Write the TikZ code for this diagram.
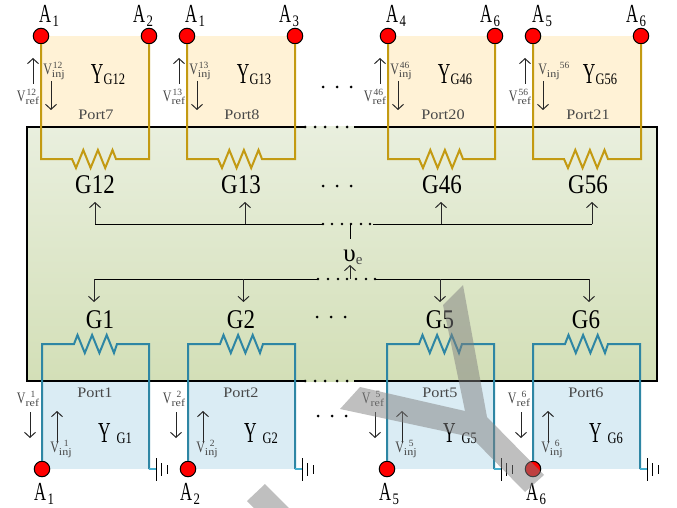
\documentclass[tikz,border=0pt]{standalone}
\usepackage{fontspec}
\usepackage{graphicx}
\setmainfont{Liberation Serif}
\usetikzlibrary{arrows.meta}
\definecolor{yelbg}{HTML}{FFF2D6}
\definecolor{blubg}{HTML}{DAECF4}
\definecolor{goldw}{HTML}{C39A12}
\definecolor{bluew}{HTML}{2E86A4}
\definecolor{gndw}{HTML}{45AECF}
\definecolor{txtg}{HTML}{484848}
\newcommand{\fs}[1]{\fontsize{#1}{#1}\selectfont}
\newcommand{\sx}[2]{\scalebox{#1}[1]{#2}}
% V label: letter, superscript, subscript, offset of the superscript
\newcommand{\vlab}[4]{\textcolor{txtg}{\sx{.75}{\fs{16}#1}\makebox[0pt][l]{\hspace{#4}\raisebox{6pt}{\fs{9.5}#2}}\raisebox{-3pt}{\sx{1.15}{\fs{10.5}#3}}}}
\newcommand{\anode}[2]{\sx{.64}{\fs{26}A}\hspace{1.5pt}\raisebox{-4pt}{\sx{.8}{\fs{16}#2}}}
\newcommand{\biglab}[1]{\sx{.85}{\fs{27}#1}}
\newcommand{\portl}[1]{\textcolor{txtg}{\sx{1.12}{\fs{14.5}Port#1}}}
\tikzset{
  term/.style={circle,draw=black,fill=red,line width=1pt,minimum size=15.5pt,inner sep=0pt},
  lbl/.style={inner sep=0pt,text=black},
  sig/.style={line width=1pt,-{Straight Barb[length=5pt,width=11pt,line width=1pt]},color=black!85},
  bus/.style={line width=1pt,color=black},
  frame/.style={line width=2.4pt,color=black,line cap=rect},
  goldwire/.style={line width=2pt,color=goldw,line join=miter},
  bluewire/.style={line width=2pt,color=bluew,line join=miter},
  gnd/.style={line width=0.9pt,color=black},
  dotm/.style={fill=black},
  water/.style={fill=black!50,opacity=0.5,draw=none}
}
\begin{document}
\begin{tikzpicture}[x=1pt,y=-1pt]
\useasboundingbox (0,0) rectangle (677,508);
% backgrounds
\foreach \dx/\w in {41/108,187/108,388/107,533/108}
  \fill[yelbg] (\dx,36) rectangle ++(\w,91);
\foreach \dx/\w in {42/107,188/107,386/107,532/107}
  \fill[blubg] (\dx,381) rectangle ++(\w,88);
\shade[top color={rgb,255:red,233;green,239;blue,222},bottom color={rgb,255:red,211;green,223;blue,183}] (27,127) rectangle (657,381);
% frame
\coordinate (tlc) at (27,127);
\coordinate (trc) at (657,127);
\coordinate (blc) at (27,381);
\coordinate (brc) at (657,381);
\coordinate (tgl) at (305,127);
\coordinate (tgr) at (355,127);
\coordinate (bgl) at (305,381);
\coordinate (bgr) at (355,381);
\draw[frame] (tgl) -- (tlc) -- (blc) -- (bgl);
\draw[frame] (tgr) -- (trc) -- (brc) -- (bgr);
\foreach \yy in {127,381}
  \foreach \xx in {305,315,325,337,347}
    \fill[dotm] (\xx,\yy) circle (1.5pt);
% top panels
\foreach \dx/\w/\id/\la/\lb/\sup/\port/\gx/\gn/\lax/\lbx in {
  0/108/a/1/2/12/7/95/12/49/143,
  146/108/b/1/3/13/8/241/13/195/289,
  347/107/c/4/6/46/20/442/46/396/490,
  492/108/d/5/6/56/21/588/56/542/636}{
  \begin{scope}[xshift=\dx pt]
    \node[term] (\id L) at (41,36) {};
    \node[term] (\id R) at (41+\w,36) {};
    \coordinate (\id ra) at (72,159);
    \coordinate (\id rb) at (116,159);
    \draw[goldwire] (\id L) |- (\id ra) -- ++(4,9) -- ++(7.3,-18) -- ++(7.3,18) -- ++(7.3,-18) -- ++(7.3,18) -- ++(7.3,-18) -- (\id rb) -| (\id R);
    \coordinate (\id ru) at (33,84);
    \coordinate (\id rv) at (33,58);
    \draw[sig] (\id ru) -- (\id rv);
    \coordinate (\id iu) at (51,81);
    \coordinate (\id iv) at (51,110);
    \draw[sig] (\id iu) -- (\id iv);
    \node[lbl] (\id vr) at (28,97) {\vlab{V}{\sup}{ref}{1pt}};
    \node[lbl] (\id port) at (96,115) {\portl{\port}};
  \end{scope}
  \node[lbl] (\id AL) at (\lax,16) {\anode{A}{\la}};
  \node[lbl] (\id AR) at (\lbx,16) {\anode{A}{\lb}};
  \node[lbl] (\id Y) at (\dx+108,75) {\sx{.6}{\fs{29}Y}\raisebox{-1pt}{\sx{.78}{\fs{16}G\sup}}};
  \node[lbl] (\id G) at (\gx,185) {\biglab{G\gn}};
}
\node[lbl] (ia) at (54,71) {\vlab{V}{12}{inj}{1pt}};
\node[lbl] (ib) at (200,71) {\vlab{V}{13}{inj}{1pt}};
\node[lbl] (ic) at (401,71) {\vlab{V}{46}{inj}{1pt}};
\node[lbl] (id) at (549,71) {\vlab{V}{56}{inj}{13pt}};
% bottom panels
\foreach \dx/\id/\ln/\gx/\lax in {
  0/e/1/100/44,
  146/f/2/241/190,
  345/g/5/440/389,
  491/h/6/586/536}{
  \begin{scope}[xshift=\dx pt]
    \node[term] (\id L) at (42,469) {};
    \coordinate (\id ra) at (74,344);
    \coordinate (\id rb) at (117,344);
    \coordinate (\id bt) at (149,344);
    \coordinate (\id bb) at (149,469);
    \coordinate (\id gn) at (156,469);
    \coordinate (\id ga) at (156,458);
    \coordinate (\id gb) at (156,481);
    \coordinate (\id gc) at (161,463);
    \coordinate (\id gd) at (161,476);
    \coordinate (\id ge) at (167,465);
    \coordinate (\id gf) at (167,474);
    \draw[bluewire] (\id L) |- (\id ra) -- ++(3.5,-9) -- ++(7.3,18) -- ++(7.3,-18) -- ++(7.3,18) -- ++(7.3,-18) -- ++(7.3,18) -- (\id rb) -- (\id bt) -- (\id bb);
    \draw[line width=1.8pt,gndw] (\id bb) -- (\id gn);
    \draw[gnd] (\id ga) -- (\id gb);
    \draw[gnd] (\id gc) -- (\id gd);
    \draw[gnd] (\id ge) -- (\id gf);
    \coordinate (\id ru) at (30,412);
    \coordinate (\id rv) at (30,438);
    \draw[sig] (\id ru) -- (\id rv);
    \coordinate (\id iu) at (57,443);
    \coordinate (\id iv) at (57,411);
    \draw[sig] (\id iu) -- (\id iv);
    \node[lbl] (\id vr) at (28,399) {\vlab{V}{\ln}{ref}{5pt}};
    \node[lbl] (\id vi) at (61,449) {\vlab{V}{\ln}{inj}{5pt}};
    \node[lbl] (\id port) at (95,393) {\portl{\ln}};
    \node[lbl] (\id Y) at (115,434) {\sx{.6}{\fs{29}Y}\hspace{6pt}\raisebox{-1pt}{\sx{.78}{\fs{16}G\ln}}};
  \end{scope}
  \node[lbl] (\id A) at (\lax,494) {\anode{A}{\ln}};
  \node[lbl] (\id G) at (\gx,320) {\biglab{G\ln}};
}
% distribution buses
\node[lbl] (ve) at (353,257) {\fs{25}υ\raisebox{-3pt}{\textcolor{txtg}{\fs{15}e}}};
\coordinate (tbl) at (95,224);
\coordinate (tbg) at (323,224);
\coordinate (tbh) at (373,224);
\coordinate (tbr) at (592,224);
\coordinate (tbm) at (350,224);
\coordinate (tbs) at (350,239);
\draw[bus] (tbl) -- (tbg);
\draw[bus] (tbh) -- (tbr);
\draw[bus] (tbm) -- (tbs);
\foreach \xx in {323,332,342,351,361,370}
  \fill[dotm] (\xx,224) circle (1.4pt);
\foreach \nm/\xx in {p/95,q/245,r/441,s/592}{
  \coordinate (u\nm) at (\xx,224);
  \coordinate (v\nm) at (\xx,202);
  \draw[sig] (u\nm) -- (v\nm);
}
\coordinate (lbl) at (94,279);
\coordinate (lbg) at (318,279);
\coordinate (lbh) at (375,279);
\coordinate (lbr) at (589,279);
\draw[bus] (lbl) -- (lbg);
\draw[bus] (lbh) -- (lbr);
\foreach \xx in {318,328,338,347,356,366,375}
  \fill[dotm] (\xx,279) circle (1.4pt);
\foreach \nm/\xx in {p/94,q/243.5,r/440,s/589}{
  \coordinate (w\nm) at (\xx,279);
  \coordinate (z\nm) at (\xx,302);
  \draw[sig] (w\nm) -- (z\nm);
}
\coordinate (vea) at (350,279);
\coordinate (veb) at (350,265);
\draw[sig] (vea) -- (veb);
% ellipsis rows
\foreach \yy/\xa in {87/323,186/323,317/317,416/318}
  \foreach \k in {0,14,28}
    \fill[dotm] (\xa+\k,\yy) circle (1.5pt);
% grey strokes
\fill[water] (463,285) -- (487,417) -- (544,475) -- (525,492) -- (471,437) -- (340,409) -- (360,387) -- (465,411) -- (443,305) -- cycle;
\fill[water] (265,484) -- (289,508) -- (254,508) -- (247,501) -- cycle;
\end{tikzpicture}
\end{document}
